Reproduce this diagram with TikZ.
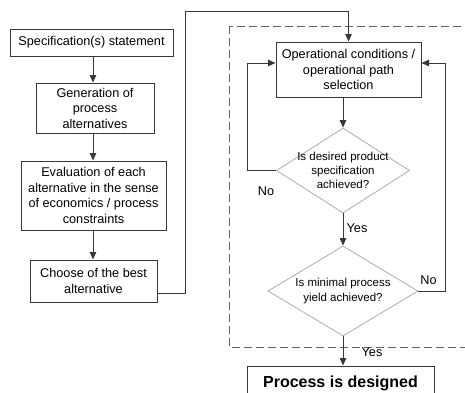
\documentclass[tikz,border=0pt]{standalone}
\usepackage{fontspec}
\setmainfont{Liberation Sans}
\usetikzlibrary{arrows.meta,shapes.geometric}
\definecolor{linec}{gray}{0.22}
\definecolor{diac}{gray}{0.68}
\definecolor{dashc}{gray}{0.38}
\begin{document}
\begin{tikzpicture}[x=1pt,y=-1pt,
  box/.style={draw=linec, line width=1pt, rectangle, align=center, inner sep=0pt,
    font=\fontsize{12.7}{15.5}\selectfont},
  dia/.style={draw=diac, line width=0.8pt, diamond, inner sep=0pt},
  diatext/.style={align=center, font=\fontsize{11.5}{14.2}\selectfont},
  conn/.style={draw=linec, line width=1pt},
  arr/.style={conn, -{Triangle[length=7.5pt,width=6.5pt]}},
  lbl/.style={font=\fontsize{12.7}{15}\selectfont, inner sep=0pt}
]
\path[use as bounding box, clip] (0,0) rectangle (465,392);

% dashed region
\draw[dashc, line width=1pt, dash pattern=on 8pt off 4pt] (229,26) rectangle (480,347);

% left column
\node[box, minimum width=163pt, minimum height=27pt] (spec) at (91.5,42.5) {Specification(s) statement};
\node[box, minimum width=118pt, minimum height=50pt] (gen) at (95,108) {Generation of\\process\\alternatives};
\node[box, minimum width=145pt, minimum height=69pt] (eval) at (93.5,195.5) {Evaluation of each\\alternative in the sense\\of economics / process\\constraints};
\node[box, minimum width=127pt, minimum height=42pt] (ch) at (93.5,281) {Choose of the best\\alternative};

% right column
\node[box, minimum width=145pt, minimum height=55pt] (op) at (348.5,69.5) {Operational conditions /\\operational path\\selection};
\node[dia, minimum width=133pt, minimum height=85pt,
  label={[diatext]center:Is desired product\\specification\\achieved?}] (d1) at (343,170.5) {};
\node[dia, minimum width=150pt, minimum height=90pt,
  label={[diatext]center:Is minimal process\\yield achieved?}] (d2) at (343,291) {};
\node[box, minimum width=187pt, minimum height=34pt, font=\fontsize{16}{18}\bfseries] (fin) at (340.5,383) {Process is designed};

% helper coordinates
\coordinate (c1) at (185,11);
\coordinate (cl) at (247,63);
\coordinate (cr) at (445,63);

% connectors
\draw[arr] (spec.south -| 93,0) -- (gen.north -| 93,0);
\draw[arr] (gen.south -| 93,0) -- (eval.north -| 93,0);
\draw[arr] (eval.south -| 93,0) -- (ch.north -| 93,0);
\draw[arr] ([yshift=-12pt]ch.east) -| (c1) -| (op.north);
\draw[arr] (op.south -| d1.north) -- (d1.north);
\draw[arr] (d1.south) -- (d2.north);
\draw[arr] (d2.south) -- (d2.south |- fin.north);
\draw[arr] (d1.west) -| (cl) -- (cl -| op.west);
\draw[arr] (d2.east) -| (cr) -- (cr -| op.east);

% labels
\node[lbl] (no1) at (266,191) {No};
\node[lbl] (no2) at (428.5,280) {No};
\node[lbl] (yes1) at (357,228) {Yes};
\node[lbl] (yes2) at (372,352) {Yes};
\end{tikzpicture}
\end{document}
